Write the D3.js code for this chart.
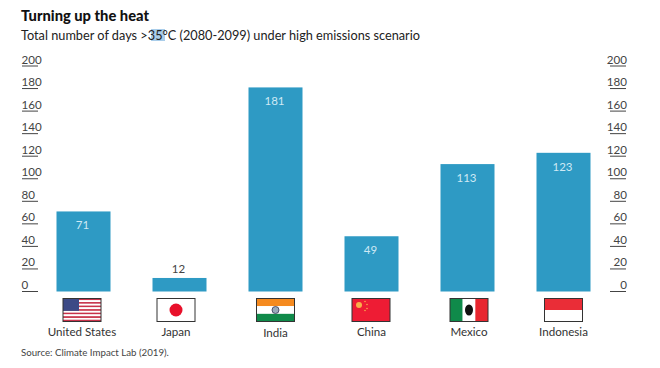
<!DOCTYPE html>
<html><head><meta charset="utf-8">
<script src="https://cdn.jsdelivr.net/npm/d3@7"></script>
<style>html,body{margin:0;background:#fff}svg{display:block}text{font-family:Lato,"Noto Sans",sans-serif}</style>
</head><body><div id="c"></div>
<script>
const categories=["United States","Japan","India","China","Mexico","Indonesia"];
const values=[71,12,181,49,113,123];
const ticks=[0,20,40,60,80,100,120,140,160,180,200];
const flagKeys=["us","jp","in","cn","mx","id"];

const W=660,H=368;
const svg=d3.select("#c").append("svg").attr("width",W).attr("height",H);
const x=d3.scaleBand().domain(categories).range([56.5,590.5]).paddingInner(0.4375);
const y=d3.scaleLinear().domain([0,200]).range([291.5,66]);

svg.append("text").attr("x",21).attr("y",21).attr("font-size",15.5).attr("font-weight",900).attr("fill","#111").attr("textLength",128).attr("lengthAdjust","spacingAndGlyphs").text("Turning up the heat");
svg.append("rect").attr("x",151).attr("y",29).attr("width",14).attr("height",12).attr("fill","#a9cdea");
svg.append("text").attr("x",21).attr("y",39.5).attr("font-size",13).attr("fill","#222").attr("textLength",399).attr("lengthAdjust","spacingAndGlyphs")
  .text("Total number of days >35°C (2080-2099) under high emissions scenario");

const bars=svg.append("g").selectAll("g").data(categories).join("g");
bars.append("rect").attr("x",d=>x(d)).attr("width",x.bandwidth())
  .attr("y",(d,i)=>y(values[i])).attr("height",(d,i)=>y(0)-y(values[i])).attr("fill","#2e9ac4");
bars.append("text").attr("x",d=>x(d)+x.bandwidth()/2-1)
  .attr("y",(d,i)=>values[i]<30?y(values[i])-5:y(values[i])+18)
  .attr("text-anchor","middle").attr("font-size",11.5)
  .attr("fill",(d,i)=>values[i]<30?"#444":"#cfe9f5").text((d,i)=>values[i]);

function axis(xLine,anchor,xText){
  const g=svg.append("g").selectAll("g").data(ticks).join("g").attr("transform",d=>`translate(0,${y(d)})`);
  g.append("line").attr("x1",xLine).attr("x2",xLine+16).attr("stroke","#444").attr("stroke-width",1);
  g.append("text").attr("x",xText).attr("y",-2.5).attr("text-anchor",anchor).attr("font-size",11.6).attr("fill","#444").text(d=>d);
}
axis(22,"start",21.5);
axis(610,"end",627);

const FW=38,FH=23;
const flagDraw={
 us(g){const s=FH/13;for(let i=0;i<13;i++)g.append("rect").attr("y",i*s).attr("width",FW).attr("height",s).attr("fill",i%2?"#fff":"#c8324a");
   g.append("rect").attr("width",16).attr("height",s*7).attr("fill","#3c4a86");},
 jp(g){g.append("rect").attr("width",FW).attr("height",FH).attr("fill","#fff");g.append("circle").attr("cx",FW/2).attr("cy",FH/2).attr("r",6.5).attr("fill","#e8102a");},
 in(g){[["#f58a1f",0],["#fff",1],["#0f8a4a",2]].forEach(([c,i])=>g.append("rect").attr("y",i*FH/3).attr("width",FW).attr("height",FH/3).attr("fill",c));
   g.append("circle").attr("cx",FW/2).attr("cy",FH/2).attr("r",3.5).attr("fill","#9ab").attr("stroke","#335").attr("stroke-width",.8);},
 cn(g){g.append("rect").attr("width",FW).attr("height",FH).attr("fill","#ee1c34");
   g.append("circle").attr("cx",7).attr("cy",6.5).attr("r",3).attr("fill","#f9b04a");
   [[13,3],[15,6],[15,10],[13,12]].forEach(p=>g.append("circle").attr("cx",p[0]).attr("cy",p[1]).attr("r",.8).attr("fill","#f7a84a"));},
 mx(g){[["#0f8a4a",0],["#fff",1],["#e8262f",2]].forEach(([c,i])=>g.append("rect").attr("x",i*FW/3).attr("width",FW/3).attr("height",FH).attr("fill",c));
   g.append("ellipse").attr("cx",FW/2).attr("cy",FH/2).attr("rx",4).attr("ry",5.5).attr("fill","#111");},
 id(g){g.append("rect").attr("width",FW).attr("height",FH).attr("fill","#fff");g.append("rect").attr("width",FW).attr("height",FH/2).attr("fill","#ea2d37");}
};
const flagNudge=[-1.5,-3.5,0,-0.5,1.5,0];
const labelNudge=[-1.5,-3.5,0,0,1.5,0];
const nameDy=[0,0,1,0,0,0];
categories.forEach((c,i)=>{
  const cx=x(c)+x.bandwidth()/2;
  const g=svg.append("g").attr("transform",`translate(${cx+flagNudge[i]-FW/2},298.5)`);
  flagDraw[flagKeys[i]](g);
  g.append("rect").attr("width",FW).attr("height",FH).attr("fill","none").attr("stroke","#333").attr("stroke-width",1);
  svg.append("text").attr("x",cx+labelNudge[i]).attr("y",335.5+nameDy[i]).attr("text-anchor","middle").attr("font-size",11.6).attr("fill","#333").text(c);
});
svg.append("text").attr("x",21).attr("y",356).attr("font-size",9.7).attr("fill","#444").text("Source: Climate Impact Lab (2019).");
</script></body></html>
